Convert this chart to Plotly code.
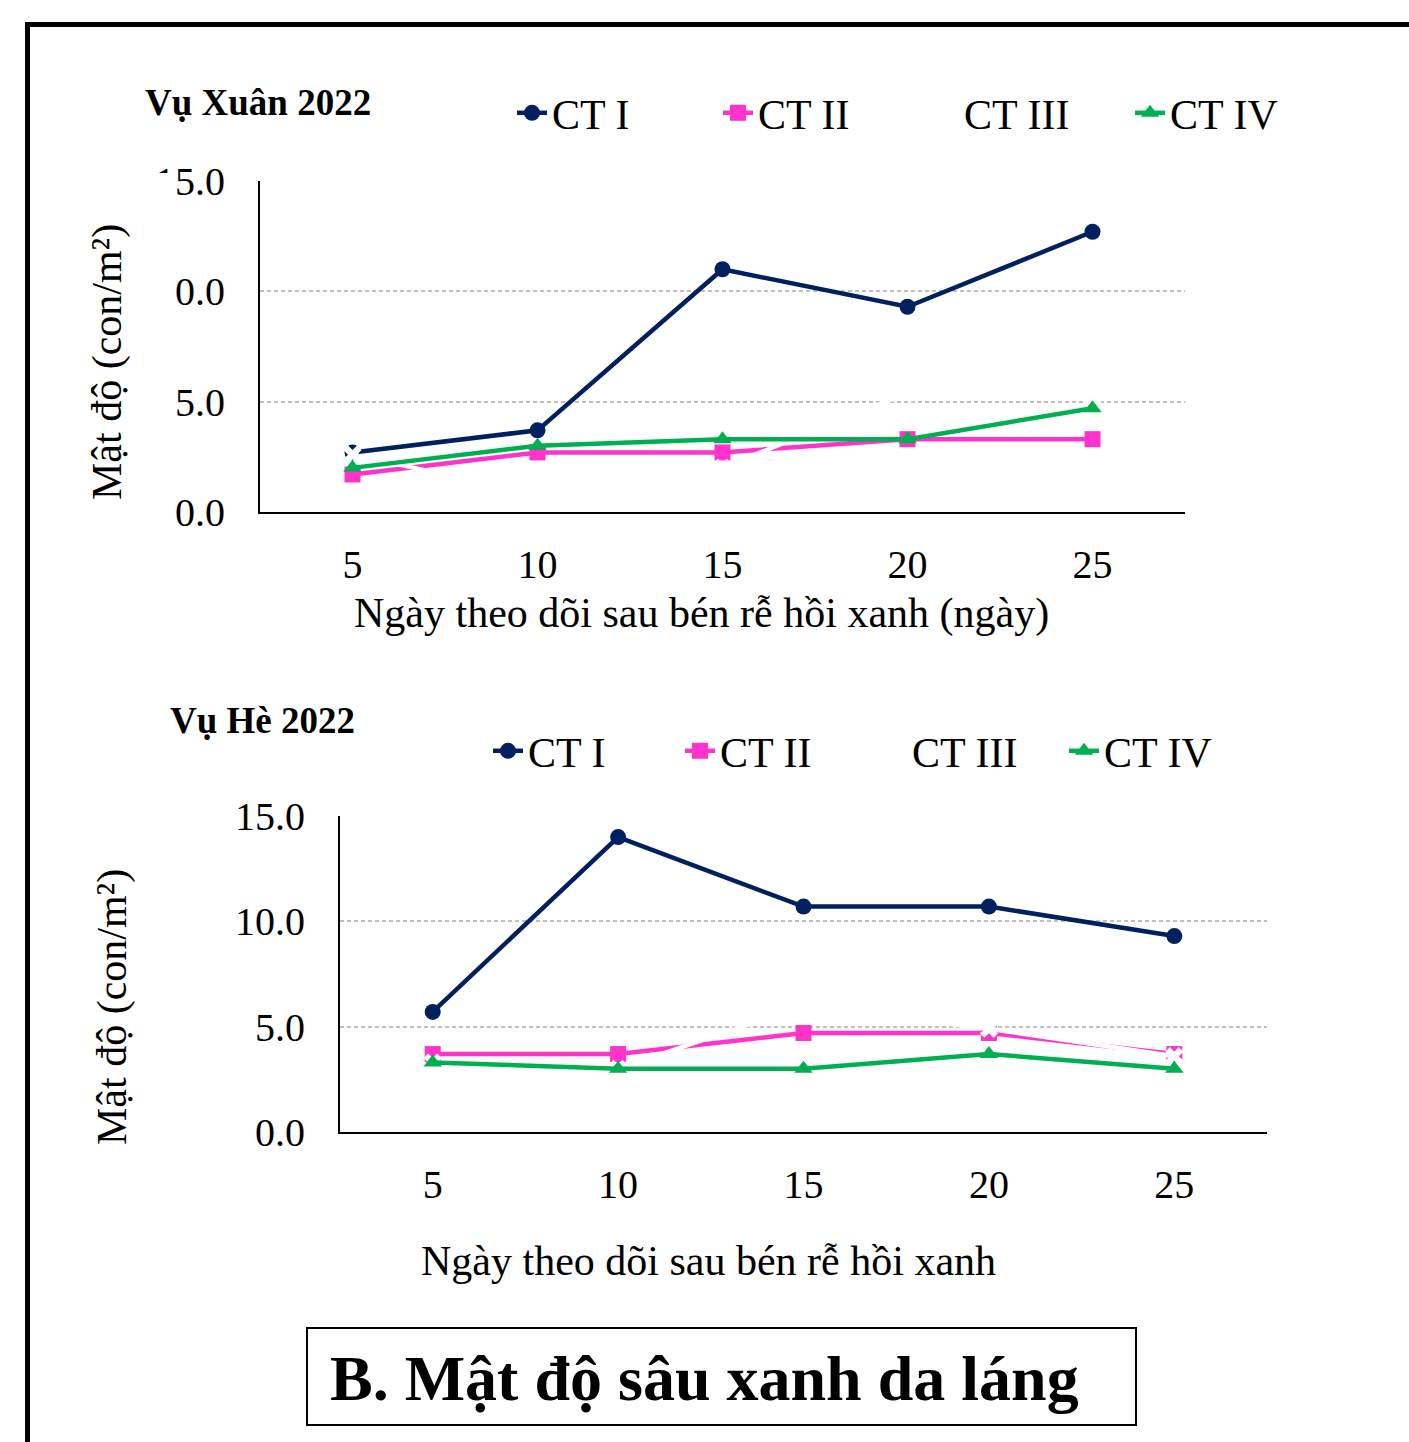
import plotly.graph_objects as go

# Observation days after transplanting
days = [5, 10, 15, 20, 25]
series_names = ["CT I", "CT II", "CT III", "CT IV"]

# Spring crop 2022 (con/m²)
xuan_ct1 = [2.7, 3.7, 11.0, 9.3, 12.7]
xuan_ct2 = [1.7, 2.7, 2.7, 3.3, 3.3]
xuan_ct3 = [2.6, 0.8, 2.0, 5.4, 5.2]
xuan_ct4 = [2.0, 3.0, 3.3, 3.3, 4.7]

# Summer crop 2022 (con/m²)
he_ct1 = [5.7, 14.0, 10.7, 10.7, 9.3]
he_ct2 = [3.7, 3.7, 4.7, 4.7, 3.7]
he_ct3 = [3.3, 3.0, 6.0, 4.9, 3.6]
he_ct4 = [3.3, 3.0, 3.0, 3.7, 3.0]

y_ticks = [0, 5, 10, 15]
y_tick_text = ["0.0", "5.0", "10.0", "15.0"]

W, H = 1409, 1442
FONT = "Liberation Serif"

colors = {"CT I": "#002060", "CT II": "#FF33CC", "CT III": "#FFFFFF", "CT IV": "#00B050"}
symbols = {"CT I": "circle", "CT II": "square", "CT III": "x", "CT IV": "triangle-up"}


def px_x(v):
    return v / W


def px_y(v):
    return 1 - v / H


fig = go.Figure()

panels = [
    ([xuan_ct1, xuan_ct2, xuan_ct3, xuan_ct4], "x", "y", "legend"),
    ([he_ct1, he_ct2, he_ct3, he_ct4], "x2", "y2", "legend2"),
]
for values, xa, ya, lg in panels:
    for name, vals in zip(series_names, values):
        fig.add_trace(go.Scatter(
            x=days, y=vals, name=name, mode="lines+markers",
            xaxis=xa, yaxis=ya, legend=lg,
            line=dict(color=colors[name], width=4.5),
            marker=dict(symbol=symbols[name], size=16, color=colors[name]),
        ))

tick_font = dict(family=FONT, size=40, color="black")


def x_axis(dom, anchor):
    return dict(
        domain=dom, anchor=anchor, range=[2.5, 27.5],
        tickvals=days, ticktext=[str(d) for d in days],
        showline=True, linecolor="black", linewidth=2,
        showgrid=False, zeroline=False, ticks="",
        tickfont=tick_font, ticklabelstandoff=16, fixedrange=True,
    )


def y_axis(dom, anchor):
    return dict(
        domain=dom, anchor=anchor, range=[0, 15],
        tickvals=y_ticks, ticktext=y_tick_text,
        showline=True, linecolor="black", linewidth=2,
        showgrid=True, gridcolor="#BFBFBF", gridwidth=1.5, griddash="4px,3px",
        zeroline=False, ticks="",
        tickfont=tick_font, ticklabelstandoff=25, fixedrange=True,
    )


legend_font = dict(family=FONT, size=42, color="black")

fig.update_layout(
    width=W, height=H,
    margin=dict(l=0, r=0, t=0, b=0, autoexpand=False),
    paper_bgcolor="white", plot_bgcolor="white",
    font=dict(family=FONT, color="black"),
    xaxis=x_axis([px_x(260), px_x(1185)], "y"),
    yaxis=y_axis([px_y(512), px_y(181)], "x"),
    xaxis2=x_axis([px_x(340), px_x(1267)], "y2"),
    yaxis2=y_axis([px_y(1132), px_y(816)], "x2"),
    legend=dict(
        orientation="h", x=px_x(512), xanchor="left", y=px_y(113), yanchor="middle",
        font=legend_font, bgcolor="rgba(0,0,0,0)",
        entrywidth=161, entrywidthmode="pixels",
    ),
    legend2=dict(
        orientation="h", x=px_x(488), xanchor="left", y=px_y(751), yanchor="middle",
        font=legend_font, bgcolor="rgba(0,0,0,0)",
        entrywidth=147, entrywidthmode="pixels",
    ),
)

annotations = [
    dict(text="<b>Vụ Xuân 2022</b>", x=px_x(143), y=px_y(103), xanchor="left", yanchor="middle",
         font=dict(family=FONT, size=37, color="black")),
    dict(text="<b>Vụ Hè 2022</b>", x=px_x(168), y=px_y(720), xanchor="left", yanchor="middle",
         font=dict(family=FONT, size=37, color="black")),
    dict(text="Ngày theo dõi sau bén rễ hồi xanh (ngày)", x=px_x(701), y=px_y(613),
         xanchor="center", yanchor="middle", font=dict(family=FONT, size=42, color="black")),
    dict(text="Ngày theo dõi sau bén rễ hồi xanh", x=px_x(708), y=px_y(1261),
         xanchor="center", yanchor="middle", font=dict(family=FONT, size=42, color="black")),
    dict(text="Mật độ (con/m²)", x=px_x(107), y=px_y(362), textangle=-90,
         xanchor="center", yanchor="middle", font=dict(family=FONT, size=42, color="black")),
    dict(text="Mật độ (con/m²)", x=px_x(112), y=px_y(1007), textangle=-90,
         xanchor="center", yanchor="middle", font=dict(family=FONT, size=42, color="black")),
    dict(text="<b>B. Mật độ sâu xanh da láng</b>", x=px_x(328), y=px_y(1378),
         xanchor="left", yanchor="middle", font=dict(family=FONT, size=64, color="black")),
]
for a in annotations:
    a.update(xref="paper", yref="paper", showarrow=False)
fig.update_layout(annotations=annotations)

shapes = [
    # outer frame (top and left edges)
    dict(type="line", x0=px_x(25), x1=px_x(1409), y0=px_y(24.5), y1=px_y(24.5),
         line=dict(color="black", width=5)),
    dict(type="line", x0=px_x(27.5), x1=px_x(27.5), y0=px_y(22), y1=px_y(1442),
         line=dict(color="black", width=5)),
    # caption box
    dict(type="rect", x0=px_x(307), x1=px_x(1136), y0=px_y(1425), y1=px_y(1328),
         line=dict(color="black", width=2)),
    # white patch over the leading digits of the upper chart's tick labels
    dict(type="rect", x0=px_x(130), x1=px_x(174), y0=px_y(310), y1=px_y(173),
         fillcolor="white", line=dict(width=0), layer="above"),
]
for s in shapes:
    s.update(xref="paper", yref="paper")
fig.update_layout(shapes=shapes)

fig.write_html("out.html")
